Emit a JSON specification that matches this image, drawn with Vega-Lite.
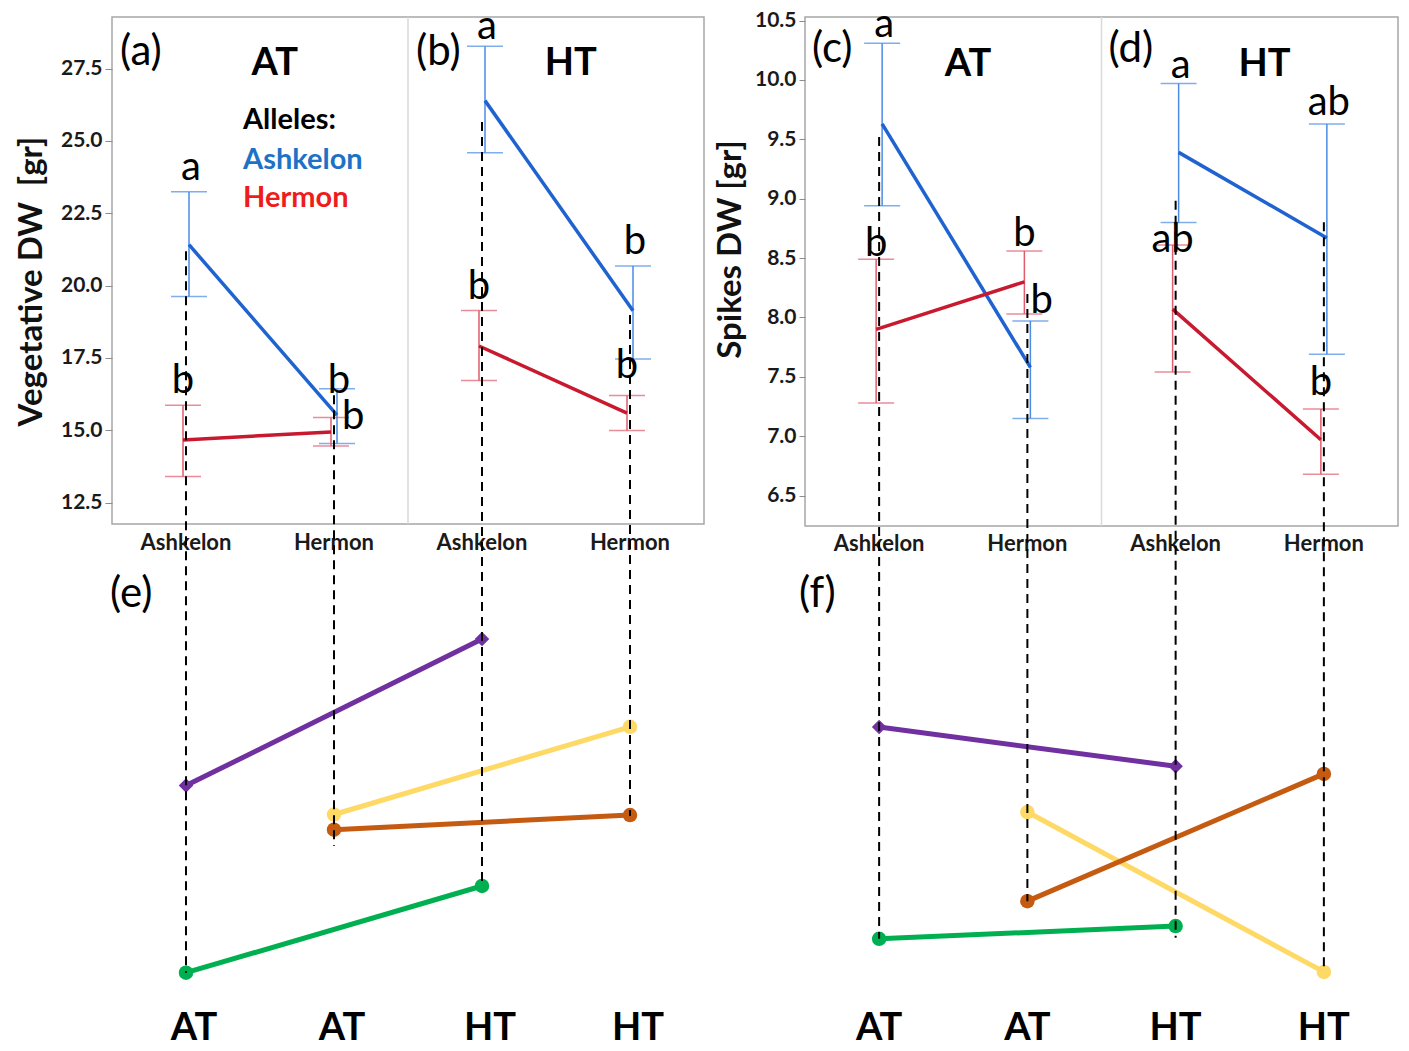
{
  "$schema": "https://vega.github.io/schema/vega-lite/v6.json",
  "background": "white",
  "padding": {"left": 14, "top": 4, "right": 0, "bottom": 0},
  "spacing": 8,
  "config": {
    "view": {"stroke": "#a6a6a6", "strokeWidth": 1.5},
    "text": {"font": "Lato"},
    "axis": {"labelFont": "Lato", "titleFont": "Lato"}
  },
  "datasets": {
    "vegBars": [
      {"group": "AT|Ashkelon", "temp": "AT", "allele": "Ashkelon", "mean": 21.41, "lo": 19.62, "hi": 23.24},
      {"group": "AT|Ashkelon", "temp": "AT", "allele": "Hermon", "mean": 14.66, "lo": 13.40, "hi": 15.86},
      {"group": "AT|Hermon", "temp": "AT", "allele": "Ashkelon", "mean": 15.52, "lo": 14.54, "hi": 16.43},
      {"group": "AT|Hermon", "temp": "AT", "allele": "Hermon", "mean": 14.94, "lo": 14.45, "hi": 15.44},
      {"group": "HT|Ashkelon", "temp": "HT", "allele": "Ashkelon", "mean": 26.39, "lo": 24.59, "hi": 28.27},
      {"group": "HT|Ashkelon", "temp": "HT", "allele": "Hermon", "mean": 17.91, "lo": 16.72, "hi": 19.14},
      {"group": "HT|Hermon", "temp": "HT", "allele": "Ashkelon", "mean": 19.13, "lo": 17.46, "hi": 20.67},
      {"group": "HT|Hermon", "temp": "HT", "allele": "Hermon", "mean": 15.59, "lo": 14.99, "hi": 16.20}
    ],
    "vegLetters": [
      {"group": "AT|Ashkelon", "allele": "Ashkelon", "label": "a", "v": 24.06, "pos": "above"},
      {"group": "AT|Ashkelon", "allele": "Hermon", "label": "b", "v": 16.70, "pos": "above"},
      {"group": "AT|Hermon", "allele": "Ashkelon", "label": "b", "v": 16.70, "pos": "above"},
      {"group": "AT|Hermon", "allele": "Hermon", "label": "b", "v": 15.44, "pos": "beside"},
      {"group": "HT|Ashkelon", "allele": "Ashkelon", "label": "a", "v": 28.95, "pos": "above"},
      {"group": "HT|Ashkelon", "allele": "Hermon", "label": "b", "v": 19.94, "pos": "above"},
      {"group": "HT|Hermon", "allele": "Ashkelon", "label": "b", "v": 21.50, "pos": "above"},
      {"group": "HT|Hermon", "allele": "Hermon", "label": "b", "v": 17.23, "pos": "above"}
    ],
    "vegPanel": [
      {"group": "AT|Ashkelon", "label": "(a)", "v": 28.07, "kind": "tag"},
      {"group": "HT|Ashkelon", "label": "(b)", "v": 28.07, "kind": "tag"},
      {"group": "AT|Hermon", "label": "AT", "v": 27.65, "kind": "temp"},
      {"group": "HT|Hermon", "label": "HT", "v": 27.65, "kind": "temp"}
    ],
    "vegXLabels": [
      {"group": "AT|Ashkelon", "label": "Ashkelon", "v": 11.117},
      {"group": "AT|Hermon", "label": "Hermon", "v": 11.117},
      {"group": "HT|Ashkelon", "label": "Ashkelon", "v": 11.117},
      {"group": "HT|Hermon", "label": "Hermon", "v": 11.117}
    ],
    "vegLegend": [
      {"group": "AT|Hermon", "label": "Alleles:", "v": 25.73, "role": "heading"},
      {"group": "AT|Hermon", "label": "Ashkelon", "v": 24.35, "role": "Ashkelon"},
      {"group": "AT|Hermon", "label": "Hermon", "v": 23.02, "role": "Hermon"}
    ],
    "vegLower": [
      {"group": "AT|Ashkelon", "series": "purple", "v": 4.84},
      {"group": "HT|Ashkelon", "series": "purple", "v": 7.73},
      {"group": "AT|Hermon", "series": "yellow", "v": 4.27},
      {"group": "HT|Hermon", "series": "yellow", "v": 6.00},
      {"group": "AT|Hermon", "series": "orange", "v": 3.97},
      {"group": "HT|Hermon", "series": "orange", "v": 4.26},
      {"group": "AT|Ashkelon", "series": "green", "v": 1.15},
      {"group": "HT|Ashkelon", "series": "green", "v": 2.86}
    ],
    "vegDash": [
      {"group": "AT|Ashkelon", "top": 15.38, "bottom": 1.15},
      {"group": "AT|Hermon", "top": 12.54, "bottom": 3.65},
      {"group": "HT|Ashkelon", "top": 17.93, "bottom": 2.86},
      {"group": "HT|Hermon", "top": 14.12, "bottom": 4.24}
    ],
    "vegBottom": [
      {"group": "AT|Ashkelon", "label": "AT", "v": 0.04},
      {"group": "AT|Hermon", "label": "AT", "v": 0.04},
      {"group": "HT|Ashkelon", "label": "HT", "v": 0.04},
      {"group": "HT|Hermon", "label": "HT", "v": 0.04}
    ],
    "spkBars": [
      {"group": "AT|Ashkelon", "temp": "AT", "allele": "Ashkelon", "mean": 9.63, "lo": 8.94, "hi": 10.31},
      {"group": "AT|Ashkelon", "temp": "AT", "allele": "Hermon", "mean": 7.90, "lo": 7.28, "hi": 8.49},
      {"group": "AT|Hermon", "temp": "AT", "allele": "Ashkelon", "mean": 7.58, "lo": 7.15, "hi": 7.97},
      {"group": "AT|Hermon", "temp": "AT", "allele": "Hermon", "mean": 8.30, "lo": 8.03, "hi": 8.56},
      {"group": "HT|Ashkelon", "temp": "HT", "allele": "Ashkelon", "mean": 9.39, "lo": 8.80, "hi": 9.97},
      {"group": "HT|Ashkelon", "temp": "HT", "allele": "Hermon", "mean": 8.07, "lo": 7.54, "hi": 8.61},
      {"group": "HT|Hermon", "temp": "HT", "allele": "Ashkelon", "mean": 8.67, "lo": 7.69, "hi": 9.63},
      {"group": "HT|Hermon", "temp": "HT", "allele": "Hermon", "mean": 6.97, "lo": 6.68, "hi": 7.23}
    ],
    "spkLetters": [
      {"group": "AT|Ashkelon", "allele": "Ashkelon", "label": "a", "v": 10.46, "pos": "above"},
      {"group": "AT|Ashkelon", "allele": "Hermon", "label": "b", "v": 8.62, "pos": "above"},
      {"group": "AT|Hermon", "allele": "Hermon", "label": "b", "v": 8.70, "pos": "above"},
      {"group": "AT|Hermon", "allele": "Ashkelon", "label": "b", "v": 8.14, "pos": "beside"},
      {"group": "HT|Ashkelon", "allele": "Ashkelon", "label": "a", "v": 10.12, "pos": "above"},
      {"group": "HT|Hermon", "allele": "Ashkelon", "label": "ab", "v": 9.81, "pos": "above"},
      {"group": "HT|Ashkelon", "allele": "Hermon", "label": "ab", "v": 8.65, "pos": "above"},
      {"group": "HT|Hermon", "allele": "Hermon", "label": "b", "v": 7.45, "pos": "above"}
    ],
    "spkPanel": [
      {"group": "AT|Ashkelon", "label": "(c)", "v": 10.26, "kind": "tag"},
      {"group": "HT|Ashkelon", "label": "(d)", "v": 10.26, "kind": "tag"},
      {"group": "AT|Hermon", "label": "AT", "v": 10.13, "kind": "temp"},
      {"group": "HT|Hermon", "label": "HT", "v": 10.13, "kind": "temp"}
    ],
    "spkXLabels": [
      {"group": "AT|Ashkelon", "label": "Ashkelon", "v": 6.09},
      {"group": "AT|Hermon", "label": "Hermon", "v": 6.09},
      {"group": "HT|Ashkelon", "label": "Ashkelon", "v": 6.09},
      {"group": "HT|Hermon", "label": "Hermon", "v": 6.09}
    ],
    "spkLower": [
      {"group": "AT|Ashkelon", "series": "purple", "v": 6.05},
      {"group": "HT|Ashkelon", "series": "purple", "v": 5.28},
      {"group": "AT|Hermon", "series": "yellow", "v": 4.38},
      {"group": "HT|Hermon", "series": "yellow", "v": 1.24},
      {"group": "AT|Hermon", "series": "orange", "v": 2.63},
      {"group": "HT|Hermon", "series": "orange", "v": 5.13},
      {"group": "AT|Ashkelon", "series": "green", "v": 1.89},
      {"group": "HT|Ashkelon", "series": "green", "v": 2.14}
    ],
    "spkDash": [
      {"group": "AT|Ashkelon", "top": 17.64, "bottom": 1.89},
      {"group": "AT|Hermon", "top": 14.56, "bottom": 2.63},
      {"group": "HT|Ashkelon", "top": 16.39, "bottom": 1.91},
      {"group": "HT|Hermon", "top": 15.97, "bottom": 1.30}
    ],
    "spkBottom": [
      {"group": "AT|Ashkelon", "label": "AT", "v": 0.12},
      {"group": "AT|Hermon", "label": "AT", "v": 0.12},
      {"group": "HT|Ashkelon", "label": "HT", "v": 0.12},
      {"group": "HT|Hermon", "label": "HT", "v": 0.12}
    ]
  },
  "hconcat": [
    {
      "width": 592,
      "height": 507,
      "encoding": {
        "x": {
          "field": "group", "type": "nominal",
          "scale": {"domain": ["AT|Ashkelon", "AT|Hermon", "HT|Ashkelon", "HT|Hermon"], "paddingInner": 0, "paddingOuter": 0},
          "axis": null
        }
      },
      "layer": [
        {
          "data": {"name": "vegBars"},
          "transform": [{"filter": "datum.allele === 'Ashkelon'"}],
          "mark": {"type": "rule", "color": "#4a8be6", "strokeWidth": 1.5, "xOffset": 3},
          "encoding": {
            "y": {"field": "lo", "type": "quantitative", "scale": {"domain": [11.757, 29.28], "nice": false, "zero": false},
              "axis": {"title": "Vegetative DW\u00a0 [gr]", "values": [12.5, 15, 17.5, 20, 22.5, 25, 27.5], "format": ".1f", "grid": false, "domain": false, "tickSize": 7, "tickColor": "#8c8c8c", "tickWidth": 1, "labelFont": "Lato", "labelFontWeight": "bold", "labelFontSize": 21, "labelColor": "#1a1a1a", "labelPadding": 3, "titleFont": "Lato", "titleFontWeight": "bold", "titleFontSize": 33, "titleColor": "#111111", "titleX": -64, "titleY": 264}},
            "y2": {"field": "hi"}
          }
        },
        {
          "data": {"values": [{"group": "HT|Ashkelon"}]},
          "mark": {"type": "rule", "color": "#d9d9d9", "strokeWidth": 1.5},
          "encoding": {"x": {"field": "group", "type": "nominal", "bandPosition": 0, "axis": null}}
        },
        {
          "data": {"name": "vegBars"},
          "transform": [{"filter": "datum.allele === 'Ashkelon'"}],
          "mark": {"type": "tick", "orient": "horizontal", "color": "#4a8be6", "thickness": 1.5, "size": 36, "xOffset": 3},
          "encoding": {"y": {"field": "lo", "type": "quantitative", "scale": {"domain": [11.757, 29.28], "nice": false, "zero": false}, "axis": null}}
        },
        {
          "data": {"name": "vegBars"},
          "transform": [{"filter": "datum.allele === 'Ashkelon'"}],
          "mark": {"type": "tick", "orient": "horizontal", "color": "#4a8be6", "thickness": 1.5, "size": 36, "xOffset": 3},
          "encoding": {"y": {"field": "hi", "type": "quantitative", "scale": {"domain": [11.757, 29.28], "nice": false, "zero": false}, "axis": null}}
        },
        {
          "data": {"name": "vegBars"},
          "transform": [{"filter": "datum.allele === 'Hermon'"}],
          "mark": {"type": "rule", "color": "#e05c6c", "strokeWidth": 1.5, "xOffset": -3},
          "encoding": {
            "y": {"field": "lo", "type": "quantitative", "scale": {"domain": [11.757, 29.28], "nice": false, "zero": false}, "axis": null},
            "y2": {"field": "hi"}
          }
        },
        {
          "data": {"name": "vegBars"},
          "transform": [{"filter": "datum.allele === 'Hermon'"}],
          "mark": {"type": "tick", "orient": "horizontal", "color": "#e05c6c", "thickness": 1.5, "size": 36, "xOffset": -3},
          "encoding": {"y": {"field": "lo", "type": "quantitative", "scale": {"domain": [11.757, 29.28], "nice": false, "zero": false}, "axis": null}}
        },
        {
          "data": {"name": "vegBars"},
          "transform": [{"filter": "datum.allele === 'Hermon'"}],
          "mark": {"type": "tick", "orient": "horizontal", "color": "#e05c6c", "thickness": 1.5, "size": 36, "xOffset": -3},
          "encoding": {"y": {"field": "hi", "type": "quantitative", "scale": {"domain": [11.757, 29.28], "nice": false, "zero": false}, "axis": null}}
        },
        {
          "data": {"name": "vegBars"},
          "transform": [{"filter": "datum.allele === 'Ashkelon'"}],
          "mark": {"type": "line", "color": "#1f63d0", "strokeWidth": 3.5, "xOffset": 3},
          "encoding": {"y": {"field": "mean", "type": "quantitative", "scale": {"domain": [11.757, 29.28], "nice": false, "zero": false}, "axis": null}, "detail": {"field": "temp"}}
        },
        {
          "data": {"name": "vegBars"},
          "transform": [{"filter": "datum.allele === 'Hermon'"}],
          "mark": {"type": "line", "color": "#c8192f", "strokeWidth": 3.5, "xOffset": -3},
          "encoding": {"y": {"field": "mean", "type": "quantitative", "scale": {"domain": [11.757, 29.28], "nice": false, "zero": false}, "axis": null}, "detail": {"field": "temp"}}
        },
        {
          "data": {"name": "vegLetters"},
          "transform": [{"filter": "datum.pos === 'above' && datum.allele === 'Ashkelon'"}],
          "mark": {"type": "text", "font": "Lato", "fontSize": 40, "color": "#000000", "align": "center", "baseline": "middle", "dx": 5},
          "encoding": {"y": {"field": "v", "type": "quantitative", "scale": {"domain": [11.757, 29.28], "nice": false, "zero": false}, "axis": null}, "text": {"field": "label"}}
        },
        {
          "data": {"name": "vegLetters"},
          "transform": [{"filter": "datum.pos === 'above' && datum.allele === 'Hermon'"}],
          "mark": {"type": "text", "font": "Lato", "fontSize": 40, "color": "#000000", "align": "center", "baseline": "middle", "dx": -3},
          "encoding": {"y": {"field": "v", "type": "quantitative", "scale": {"domain": [11.757, 29.28], "nice": false, "zero": false}, "axis": null}, "text": {"field": "label"}}
        },
        {
          "data": {"name": "vegLetters"},
          "transform": [{"filter": "datum.pos === 'beside'"}],
          "mark": {"type": "text", "font": "Lato", "fontSize": 40, "color": "#000000", "align": "left", "baseline": "middle", "dx": 8},
          "encoding": {"y": {"field": "v", "type": "quantitative", "scale": {"domain": [11.757, 29.28], "nice": false, "zero": false}, "axis": null}, "text": {"field": "label"}}
        },
        {
          "data": {"name": "vegPanel"},
          "transform": [{"filter": "datum.kind === 'tag'"}],
          "mark": {"type": "text", "font": "Lato", "fontSize": 42, "color": "#000000", "align": "left", "baseline": "middle", "dx": 8},
          "encoding": {
            "x": {"field": "group", "type": "nominal", "bandPosition": 0, "axis": null},
            "y": {"field": "v", "type": "quantitative", "scale": {"domain": [11.757, 29.28], "nice": false, "zero": false}, "axis": null},
            "text": {"field": "label"}
          }
        },
        {
          "data": {"name": "vegPanel"},
          "transform": [{"filter": "datum.kind === 'temp'"}],
          "mark": {"type": "text", "font": "Lato", "fontSize": 38, "fontWeight": "bold", "color": "#000000", "align": "center", "baseline": "middle"},
          "encoding": {
            "x": {"field": "group", "type": "nominal", "bandPosition": 0.1, "axis": null},
            "y": {"field": "v", "type": "quantitative", "scale": {"domain": [11.757, 29.28], "nice": false, "zero": false}, "axis": null},
            "text": {"field": "label"}
          }
        },
        {
          "data": {"name": "vegXLabels"},
          "mark": {"type": "text", "font": "Lato", "fontSize": 22, "fontWeight": "bold", "color": "#1a1a1a", "align": "center", "baseline": "middle"},
          "encoding": {
            "y": {"field": "v", "type": "quantitative", "scale": {"domain": [11.757, 29.28], "nice": false, "zero": false}, "axis": null},
            "text": {"field": "label"}
          }
        },
        {
          "data": {"name": "vegLegend"},
          "mark": {"type": "text", "font": "Lato", "fontSize": 29, "fontWeight": "bold", "align": "left", "baseline": "middle", "dx": -17},
          "encoding": {
            "x": {"field": "group", "type": "nominal", "bandPosition": 0, "axis": null},
            "y": {"field": "v", "type": "quantitative", "scale": {"domain": [11.757, 29.28], "nice": false, "zero": false}, "axis": null},
            "text": {"field": "label"},
            "fill": {"field": "role", "type": "nominal", "scale": {"domain": ["heading", "Ashkelon", "Hermon"], "range": ["#000000", "#1e72c6", "#ee1c1c"]}, "legend": null}
          }
        },
        {
          "data": {"name": "vegLower"},
          "mark": {"type": "line", "strokeWidth": 5},
          "encoding": {
            "y": {"field": "v", "type": "quantitative", "scale": {"domain": [10, 20], "nice": false, "zero": false}, "axis": null},
            "color": {"field": "series", "type": "nominal", "scale": {"domain": ["purple", "yellow", "orange", "green"], "range": ["#7030a0", "#ffd966", "#c55a11", "#00b050"]}, "legend": null}
          }
        },
        {
          "data": {"name": "vegLower"},
          "mark": {"type": "point", "filled": true, "opacity": 1, "size": 210},
          "encoding": {
            "y": {"field": "v", "type": "quantitative", "scale": {"domain": [10, 20], "nice": false, "zero": false}, "axis": null},
            "color": {"field": "series", "type": "nominal", "scale": {"domain": ["purple", "yellow", "orange", "green"], "range": ["#7030a0", "#ffd966", "#c55a11", "#00b050"]}, "legend": null},
            "shape": {"field": "series", "type": "nominal", "scale": {"domain": ["purple", "yellow", "orange", "green"], "range": ["diamond", "circle", "circle", "circle"]}, "legend": null}
          }
        },
        {
          "data": {"name": "vegBottom"},
          "mark": {"type": "text", "font": "Lato", "fontSize": 38, "fontWeight": "bold", "color": "#000000", "align": "center", "baseline": "middle", "dx": 8},
          "encoding": {
            "y": {"field": "v", "type": "quantitative", "scale": {"domain": [10, 20], "nice": false, "zero": false}, "axis": null},
            "text": {"field": "label"}
          }
        },
        {
          "data": {"values": [{"group": "AT|Ashkelon", "label": "(e)", "v": 8.62}]},
          "mark": {"type": "text", "font": "Lato", "fontSize": 42, "color": "#000000", "align": "left", "baseline": "middle", "dx": -2},
          "encoding": {
            "x": {"field": "group", "type": "nominal", "bandPosition": 0, "axis": null},
            "y": {"field": "v", "type": "quantitative", "scale": {"domain": [10, 20], "nice": false, "zero": false}, "axis": null},
            "text": {"field": "label"}
          }
        },
        {
          "data": {"name": "vegDash"},
          "mark": {"type": "rule", "color": "#000000", "strokeWidth": 2, "strokeDash": [9, 6]},
          "encoding": {
            "y": {"field": "top", "type": "quantitative", "scale": {"domain": [10, 20], "nice": false, "zero": false}, "axis": null},
            "y2": {"field": "bottom"}
          }
        }
      ],
      "resolve": {"scale": {"y": "independent", "color": "independent", "fill": "independent", "shape": "independent"}}
    },
    {
      "width": 593,
      "height": 509,
      "encoding": {
        "x": {
          "field": "group", "type": "nominal",
          "scale": {"domain": ["AT|Ashkelon", "AT|Hermon", "HT|Ashkelon", "HT|Hermon"], "paddingInner": 0, "paddingOuter": 0},
          "axis": null
        }
      },
      "layer": [
        {
          "data": {"name": "spkBars"},
          "transform": [{"filter": "datum.allele === 'Ashkelon'"}],
          "mark": {"type": "rule", "color": "#4a8be6", "strokeWidth": 1.5, "xOffset": 3},
          "encoding": {
            "y": {"field": "lo", "type": "quantitative", "scale": {"domain": [6.244, 10.53], "nice": false, "zero": false},
              "axis": {"title": "Spikes DW [gr]", "values": [6.5, 7, 7.5, 8, 8.5, 9, 9.5, 10, 10.5], "format": ".1f", "grid": false, "domain": false, "tickSize": 6, "tickColor": "#8c8c8c", "tickWidth": 1, "labelFont": "Lato", "labelFontWeight": "bold", "labelFontSize": 21, "labelColor": "#1a1a1a", "labelPadding": 3, "titleFont": "Lato", "titleFontWeight": "bold", "titleFontSize": 33, "titleColor": "#111111", "titleX": -58, "titleY": 232}},
            "y2": {"field": "hi"}
          }
        },
        {
          "data": {"values": [{"group": "HT|Ashkelon"}]},
          "mark": {"type": "rule", "color": "#d9d9d9", "strokeWidth": 1.5},
          "encoding": {"x": {"field": "group", "type": "nominal", "bandPosition": 0, "axis": null}}
        },
        {
          "data": {"name": "spkBars"},
          "transform": [{"filter": "datum.allele === 'Ashkelon'"}],
          "mark": {"type": "tick", "orient": "horizontal", "color": "#4a8be6", "thickness": 1.5, "size": 36, "xOffset": 3},
          "encoding": {"y": {"field": "lo", "type": "quantitative", "scale": {"domain": [6.244, 10.53], "nice": false, "zero": false}, "axis": null}}
        },
        {
          "data": {"name": "spkBars"},
          "transform": [{"filter": "datum.allele === 'Ashkelon'"}],
          "mark": {"type": "tick", "orient": "horizontal", "color": "#4a8be6", "thickness": 1.5, "size": 36, "xOffset": 3},
          "encoding": {"y": {"field": "hi", "type": "quantitative", "scale": {"domain": [6.244, 10.53], "nice": false, "zero": false}, "axis": null}}
        },
        {
          "data": {"name": "spkBars"},
          "transform": [{"filter": "datum.allele === 'Hermon'"}],
          "mark": {"type": "rule", "color": "#e05c6c", "strokeWidth": 1.5, "xOffset": -3},
          "encoding": {
            "y": {"field": "lo", "type": "quantitative", "scale": {"domain": [6.244, 10.53], "nice": false, "zero": false}, "axis": null},
            "y2": {"field": "hi"}
          }
        },
        {
          "data": {"name": "spkBars"},
          "transform": [{"filter": "datum.allele === 'Hermon'"}],
          "mark": {"type": "tick", "orient": "horizontal", "color": "#e05c6c", "thickness": 1.5, "size": 36, "xOffset": -3},
          "encoding": {"y": {"field": "lo", "type": "quantitative", "scale": {"domain": [6.244, 10.53], "nice": false, "zero": false}, "axis": null}}
        },
        {
          "data": {"name": "spkBars"},
          "transform": [{"filter": "datum.allele === 'Hermon'"}],
          "mark": {"type": "tick", "orient": "horizontal", "color": "#e05c6c", "thickness": 1.5, "size": 36, "xOffset": -3},
          "encoding": {"y": {"field": "hi", "type": "quantitative", "scale": {"domain": [6.244, 10.53], "nice": false, "zero": false}, "axis": null}}
        },
        {
          "data": {"name": "spkBars"},
          "transform": [{"filter": "datum.allele === 'Ashkelon'"}],
          "mark": {"type": "line", "color": "#1f63d0", "strokeWidth": 3.5, "xOffset": 3},
          "encoding": {"y": {"field": "mean", "type": "quantitative", "scale": {"domain": [6.244, 10.53], "nice": false, "zero": false}, "axis": null}, "detail": {"field": "temp"}}
        },
        {
          "data": {"name": "spkBars"},
          "transform": [{"filter": "datum.allele === 'Hermon'"}],
          "mark": {"type": "line", "color": "#c8192f", "strokeWidth": 3.5, "xOffset": -3},
          "encoding": {"y": {"field": "mean", "type": "quantitative", "scale": {"domain": [6.244, 10.53], "nice": false, "zero": false}, "axis": null}, "detail": {"field": "temp"}}
        },
        {
          "data": {"name": "spkLetters"},
          "transform": [{"filter": "datum.pos === 'above' && datum.allele === 'Ashkelon'"}],
          "mark": {"type": "text", "font": "Lato", "fontSize": 40, "color": "#000000", "align": "center", "baseline": "middle", "dx": 5},
          "encoding": {"y": {"field": "v", "type": "quantitative", "scale": {"domain": [6.244, 10.53], "nice": false, "zero": false}, "axis": null}, "text": {"field": "label"}}
        },
        {
          "data": {"name": "spkLetters"},
          "transform": [{"filter": "datum.pos === 'above' && datum.allele === 'Hermon'"}],
          "mark": {"type": "text", "font": "Lato", "fontSize": 40, "color": "#000000", "align": "center", "baseline": "middle", "dx": -3},
          "encoding": {"y": {"field": "v", "type": "quantitative", "scale": {"domain": [6.244, 10.53], "nice": false, "zero": false}, "axis": null}, "text": {"field": "label"}}
        },
        {
          "data": {"name": "spkLetters"},
          "transform": [{"filter": "datum.pos === 'beside'"}],
          "mark": {"type": "text", "font": "Lato", "fontSize": 40, "color": "#000000", "align": "left", "baseline": "middle", "dx": 3},
          "encoding": {"y": {"field": "v", "type": "quantitative", "scale": {"domain": [6.244, 10.53], "nice": false, "zero": false}, "axis": null}, "text": {"field": "label"}}
        },
        {
          "data": {"name": "spkPanel"},
          "transform": [{"filter": "datum.kind === 'tag'"}],
          "mark": {"type": "text", "font": "Lato", "fontSize": 42, "color": "#000000", "align": "left", "baseline": "middle", "dx": 7},
          "encoding": {
            "x": {"field": "group", "type": "nominal", "bandPosition": 0, "axis": null},
            "y": {"field": "v", "type": "quantitative", "scale": {"domain": [6.244, 10.53], "nice": false, "zero": false}, "axis": null},
            "text": {"field": "label"}
          }
        },
        {
          "data": {"name": "spkPanel"},
          "transform": [{"filter": "datum.kind === 'temp'"}],
          "mark": {"type": "text", "font": "Lato", "fontSize": 38, "fontWeight": "bold", "color": "#000000", "align": "center", "baseline": "middle"},
          "encoding": {
            "x": {"field": "group", "type": "nominal", "bandPosition": 0.1, "axis": null},
            "y": {"field": "v", "type": "quantitative", "scale": {"domain": [6.244, 10.53], "nice": false, "zero": false}, "axis": null},
            "text": {"field": "label"}
          }
        },
        {
          "data": {"name": "spkXLabels"},
          "mark": {"type": "text", "font": "Lato", "fontSize": 22, "fontWeight": "bold", "color": "#1a1a1a", "align": "center", "baseline": "middle"},
          "encoding": {
            "y": {"field": "v", "type": "quantitative", "scale": {"domain": [6.244, 10.53], "nice": false, "zero": false}, "axis": null},
            "text": {"field": "label"}
          }
        },
        {
          "data": {"name": "spkLower"},
          "mark": {"type": "line", "strokeWidth": 5},
          "encoding": {
            "y": {"field": "v", "type": "quantitative", "scale": {"domain": [10, 20], "nice": false, "zero": false}, "axis": null},
            "color": {"field": "series", "type": "nominal", "scale": {"domain": ["purple", "yellow", "orange", "green"], "range": ["#7030a0", "#ffd966", "#c55a11", "#00b050"]}, "legend": null}
          }
        },
        {
          "data": {"name": "spkLower"},
          "mark": {"type": "point", "filled": true, "opacity": 1, "size": 210},
          "encoding": {
            "y": {"field": "v", "type": "quantitative", "scale": {"domain": [10, 20], "nice": false, "zero": false}, "axis": null},
            "color": {"field": "series", "type": "nominal", "scale": {"domain": ["purple", "yellow", "orange", "green"], "range": ["#7030a0", "#ffd966", "#c55a11", "#00b050"]}, "legend": null},
            "shape": {"field": "series", "type": "nominal", "scale": {"domain": ["purple", "yellow", "orange", "green"], "range": ["diamond", "circle", "circle", "circle"]}, "legend": null}
          }
        },
        {
          "data": {"name": "spkBottom"},
          "mark": {"type": "text", "font": "Lato", "fontSize": 38, "fontWeight": "bold", "color": "#000000", "align": "center", "baseline": "middle"},
          "encoding": {
            "y": {"field": "v", "type": "quantitative", "scale": {"domain": [10, 20], "nice": false, "zero": false}, "axis": null},
            "text": {"field": "label"}
          }
        },
        {
          "data": {"values": [{"group": "AT|Ashkelon", "label": "(f)", "v": 8.66}]},
          "mark": {"type": "text", "font": "Lato", "fontSize": 42, "color": "#000000", "align": "left", "baseline": "middle", "dx": -6},
          "encoding": {
            "x": {"field": "group", "type": "nominal", "bandPosition": 0, "axis": null},
            "y": {"field": "v", "type": "quantitative", "scale": {"domain": [10, 20], "nice": false, "zero": false}, "axis": null},
            "text": {"field": "label"}
          }
        },
        {
          "data": {"name": "spkDash"},
          "mark": {"type": "rule", "color": "#000000", "strokeWidth": 2, "strokeDash": [9, 6]},
          "encoding": {
            "y": {"field": "top", "type": "quantitative", "scale": {"domain": [10, 20], "nice": false, "zero": false}, "axis": null},
            "y2": {"field": "bottom"}
          }
        }
      ],
      "resolve": {"scale": {"y": "independent", "color": "independent", "fill": "independent", "shape": "independent"}}
    }
  ]
}
